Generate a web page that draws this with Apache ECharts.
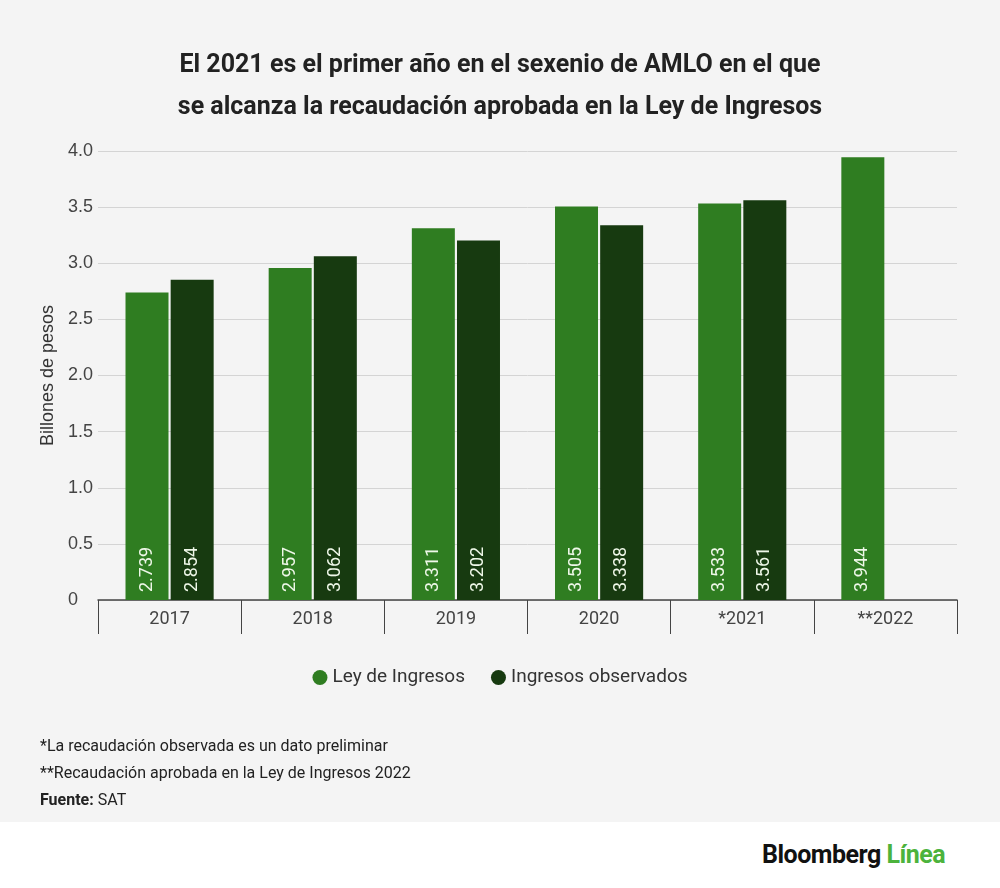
<!DOCTYPE html>
<html><head><meta charset="utf-8">
<script src="https://cdn.jsdelivr.net/npm/echarts@6/dist/echarts.min.js"></script>
<style>
body{margin:0;background:#fff;font-family:Roboto,sans-serif}
#top{position:absolute;left:0;top:0;width:1000px;height:822px;background:#f4f4f4}
#chart{position:absolute;left:0;top:0;width:1000px;height:822px}
.note{position:absolute;left:40px;font-size:16px;color:#222}
#logo{position:absolute;left:762px;top:840px;font-size:25px;font-weight:bold;letter-spacing:-0.5px;color:#111}
</style></head>
<body>
<div id="top"></div>
<div id="chart"></div>
<div class="note" style="top:736px">*La recaudación observada es un dato preliminar</div>
<div class="note" style="top:763px">**Recaudación aprobada en la Ley de Ingresos 2022</div>
<div class="note" style="top:790px"><b>Fuente:</b> SAT</div>
<div id="logo">Bloomberg <span style="color:#4cb33c">Línea</span></div>
<script>
const categories = ["2017", "2018", "2019", "2020", "*2021", "**2022"];
const leyIngresos = [2.739, 2.957, 3.311, 3.505, 3.533, 3.944];
const ingresosObservados = [2.854, 3.062, 3.202, 3.338, 3.561, null];
const yTicks = [0, 0.5, 1.0, 1.5, 2.0, 2.5, 3.0, 3.5, 4.0];

const chart = echarts.init(document.getElementById("chart"));
const lbl = {
  show: true, position: "insideBottom", rotate: 90, align: "left", verticalAlign: "middle",
  distance: 8, color: "#eef7e8", fontSize: 18, fontFamily: "Roboto",
  formatter: p => p.value.toFixed(3)
};
chart.setOption({
  backgroundColor: "transparent",
  title: {
    text: "El 2021 es el primer año en el sexenio de AMLO en el que\nse alcanza la recaudación aprobada en la Ley de Ingresos",
    left: "center", top: 40,
    textStyle: { fontSize: 25, fontWeight: "bold", color: "#222", lineHeight: 42, fontFamily: "Roboto" }
  },
  legend: {
    bottom: 130, left: "center", itemWidth: 15, itemHeight: 15, itemGap: 26, icon: "circle",
    textStyle: { fontSize: 19, color: "#333", fontFamily: "Roboto" }
  },
  grid: { left: 98, right: 43, top: 151, bottom: 222 },
  xAxis: {
    type: "category", data: categories,
    axisLine: { lineStyle: { color: "#444", width: 1.5 } },
    axisTick: { show: true, length: 34, lineStyle: { color: "#444" } },
    axisLabel: { fontSize: 18, color: "#444", margin: 10, fontFamily: "Roboto" }
  },
  yAxis: {
    type: "value", min: 0, max: 4, interval: 0.5,
    name: "Billones de pesos", nameLocation: "middle", nameGap: 41, nameMoveOverlap: false,
    nameTextStyle: { fontSize: 18, color: "#333" },
    axisLabel: { fontSize: 18, color: "#444", margin: 30, align: "left",
      formatter: v => yTicks.includes(v) ? (v === 0 ? "0" : v.toFixed(1)) : "" },
    splitLine: { lineStyle: { color: "#d4d4d4" } }
  },
  series: [
    { name: "Ley de Ingresos", type: "bar", data: leyIngresos, barWidth: 43, barGap: "5%",
      itemStyle: { color: "#2f7d21" }, label: lbl },
    { name: "Ingresos observados", type: "bar", data: ingresosObservados, barWidth: 43,
      itemStyle: { color: "#173a10" }, label: lbl }
  ]
});
</script>
</body></html>
